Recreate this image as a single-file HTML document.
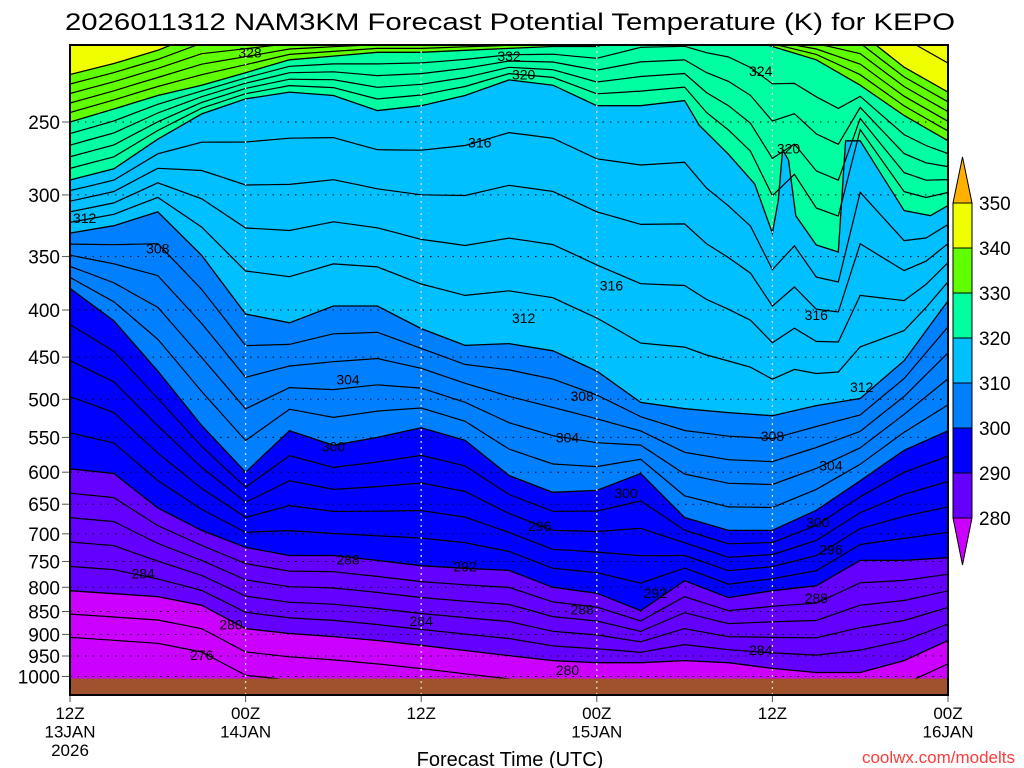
<!DOCTYPE html>
<html><head><meta charset="utf-8"><style>
html,body{margin:0;padding:0;background:#fff;}
svg{display:block;font-family:"Liberation Sans",sans-serif;}
</style></head><body>
<svg id="chart" width="1024" height="768" viewBox="0 0 1024 768" xmlns="http://www.w3.org/2000/svg">
<text x="65" y="30" font-size="24" textLength="890" lengthAdjust="spacingAndGlyphs" fill="#000">2026011312 NAM3KM Forecast Potential Temperature (K) for KEPO</text>
<defs><clipPath id="plotclip"><rect x="70" y="45" width="878" height="650"/></clipPath></defs>
<g id="plot" clip-path="url(#plotclip)"></g>
<g id="overlay"></g>
<g id="colorbar"></g>
<text x="510" y="766" font-size="20" text-anchor="middle" fill="#000">Forecast Time (UTC)</text>
<text x="1015" y="763" font-size="17" text-anchor="end" fill="#ff3b3b">coolwx.com/modelts</text>
</svg>
<script>
// ---- data ----
const gridHours = [0,3,6,9,12,15,18,21,24,27,30,33,36,39,42,45,48,51,54,57,60];
const iso280 = [807,813,819,837,887,898,905,914,925,937,949,961,966,966,961,966,980,990,990,961,914];
const iso290 = [595,602,656,694,724,739,739,748,758,763,767,800,812,848,787,821,807,797,748,748,743];
const iso300 = [379,411,466,534,600,541,561,550,537,554,605,631,628,602,672,694,694,660,613,568,541];
const iso310 = [330,324,313,349,404,413,396,396,419,437,435,443,466,504,512,517,521,508,499,454,391];
const iso320Hours = [0,3,6,9,12,15,18,21,24,27,30,33,36,39,42,43,45,46.8,48,48.4,48.7,49.1,49.6,51,52.5,53,54,57,58.8,60];
const iso320 = [289,281,261,245,236,232,234,243,240,234,225,228,240,240,237,252,271,292,330,304,268,275,316,340,346,262,262,312,316,308];
const iso330 = [250,242,234,228,221,214,212,210,210,209,208,207,207,200,200,200,207,214,228,246,262];
const iso340 = [222,216,209,200,200,200,200,200,200,200,200,200,200,200,200,200,200,200,200,218,232];
const levelValues = [280,290,300,310,320,330,340];
const bandColors = ['#6400ff','#0000ff','#0080ff','#00c0ff','#00ffa0','#60ff00','#f0ff00'];
const belowColor = '#cc00ff';
const pressureTicks = [250,300,350,400,450,500,550,600,650,700,750,800,850,900,950,1000];
const timeTickHours = [0,12,24,36,48,60];
const timeTickLine1 = ['12Z','00Z','12Z','00Z','12Z','00Z'];
const timeTickLine2 = ['13JAN','14JAN','','15JAN','','16JAN'];
const timeTickLine3 = ['2026','','','','',''];
const cbarLabels = [280,290,300,310,320,330,340,350];
const contourLabels = [
 ['332',30,212],['328',12.3,210],['320',31,222],['324',47.2,220],['316',28,263],['320',49.1,267],
 ['312',1,318],['308',6,343],['316',37,376],['312',31,408],['316',51,405],['312',54.1,485],
 ['304',19,476],['308',35,496],['304',34,550],['308',48,548],['304',52,590],['300',18,563],
 ['300',38,632],['300',51.1,680],['296',32.1,686],['296',52,728],['292',27,760],['292',40,812],
 ['288',19,746],['288',35,846],['288',51,822],['284',5,773],['284',24,870],['284',47.2,936],
 ['280',11,878],['280',34,984],['276',9,948]];

// ---- axes ----
const X0=70, X1=948, Y250=122, PXLN=400;
function xOf(h){return X0+(X1-X0)*h/60;}
function yOf(p){return Y250+PXLN*Math.log(p/250);}
function interp(hs,vs,h){
  if(h<=hs[0])return vs[0];
  for(let i=1;i<hs.length;i++){if(h<=hs[i]){const t=(h-hs[i-1])/(hs[i]-hs[i-1]);return Math.exp(Math.log(vs[i-1])*(1-t)+Math.log(vs[i])*t);}}
  return vs[vs.length-1];
}
const NS='http://www.w3.org/2000/svg';
function mk(tag,attrs,parent){const e=document.createElementNS(NS,tag);for(const k in attrs)e.setAttribute(k,attrs[k]);parent.appendChild(e);return e;}
const plot=document.getElementById('plot');
const overlay=document.getElementById('overlay');
const cb=document.getElementById('colorbar');

const isoSeries=[
 {h:gridHours,p:iso280},{h:gridHours,p:iso290},{h:gridHours,p:iso300},{h:gridHours,p:iso310},
 {h:iso320Hours,p:iso320},{h:gridHours,p:iso330},{h:gridHours,p:iso340}];
function linePts(s){return s.h.map((h,i)=>xOf(h).toFixed(1)+','+yOf(s.p[i]).toFixed(1));}

// background below 280
const bg=mk('rect',{x:X0,y:45,width:X1-X0,height:650,fill:belowColor},plot);


// fill bands from warmest threshold outward (region above each isotherm)
isoSeries.forEach((s,k)=>{
  const pts=linePts(s);
  const d='M'+X0+',40 L'+pts.join(' L')+' L'+X1+',40 Z';
  const el=mk('path',{d:d,fill:bandColors[k],stroke:'none'},plot);
  
  
});
// contour lines: boundaries + derived intermediates (2K)
const fine=[];for(let h=0;h<=60;h+=1.5)fine.push(h);
function sample(s){return fine.map(h=>interp(s.h,s.p,h));}
const sampled=isoSeries.map(sample);
for(let k=0;k<sampled.length;k++){
  const s=isoSeries[k];
  const el=mk('polyline',{points:linePts(s).join(' '),fill:'none',stroke:'#000','stroke-width':1.3},plot);
  
  
  if(k<sampled.length-1){
    const a=sampled[k],b=sampled[k+1];
    for(let f=1;f<5;f++){
      const t=f/5;
      const pts=fine.map((h,i)=>xOf(h).toFixed(1)+','+yOf(Math.exp(Math.log(a[i])*(1-t)+Math.log(b[i])*t)).toFixed(1));
      const ln=mk('polyline',{points:pts.join(' '),fill:'none',stroke:'#000','stroke-width':1.2},plot);
      
      
    }
  }
}
// lines above 340 (yellow) and below 280
{
  const a=sampled[6];
  for(let f=1;f<5;f++){
    const pts=fine.map((h,i)=>xOf(h).toFixed(1)+','+yOf(a[i]*Math.pow(0.93,f)).toFixed(1));
    const ln=mk('polyline',{points:pts.join(' '),fill:'none',stroke:'#000','stroke-width':1.2},plot);
    
    
  }
  const b=sampled[0];
  for(let f=1;f<3;f++){
    const pts=fine.map((h,i)=>xOf(h).toFixed(1)+','+yOf(Math.min(1030,b[i]*Math.pow(1.06,f))).toFixed(1));
    const ln=mk('polyline',{points:pts.join(' '),fill:'none',stroke:'#000','stroke-width':1.2},plot);
    
    
  }
}
// contour labels
contourLabels.forEach(c=>{
  const t=mk('text',{x:xOf(c[1]),y:yOf(c[2])+5,'font-size':14,'text-anchor':'middle',fill:'#000'},plot);
  t.textContent=c[0];
  
  
});
// ground
const gr=mk('rect',{x:X0,y:yOf(1005),width:X1-X0,height:700-yOf(1005),fill:'#a0522d'},plot);



// grid lines
pressureTicks.forEach(p=>{
  const y=yOf(p);
  const g=mk('line',{x1:X0,x2:X1,y1:y,y2:y,stroke:'#000','stroke-width':1,'stroke-dasharray':'1.5,6'},overlay);
  
  
  const tk=mk('line',{x1:X0-8,x2:X0,y1:y,y2:y,stroke:'#555','stroke-width':1},overlay);
  
  
  const tl=mk('text',{x:60,y:y+7,'font-size':19,'text-anchor':'end',fill:'#000'},overlay);
  tl.textContent=p;
  
  
});
timeTickHours.forEach((h,i)=>{
  const x=xOf(h);
  if(h>0&&h<60){
    const v=mk('line',{x1:x,x2:x,y1:45,y2:695,stroke:'#d8d8d8','stroke-width':1.3,'stroke-dasharray':'2,4'},overlay);
    
    
  }
  const tk=mk('line',{x1:x,x2:x,y1:695,y2:702,stroke:'#555','stroke-width':1},overlay);
  
  
  [timeTickLine1[i],timeTickLine2[i],timeTickLine3[i]].forEach((s,j)=>{
    if(!s)return;
    const t=mk('text',{x:x,y:719+j*18.5,'font-size':17,'text-anchor':'middle',fill:'#000'},overlay);
    t.textContent=s;
    
    
  });
});
const fr=mk('rect',{x:X0,y:45,width:X1-X0,height:650,fill:'none',stroke:'#000','stroke-width':2},overlay);



// colorbar
const CBX=953,CBW=19,CB280=518,CBSTEP=45;
const cbTop=CB280-CBSTEP*(cbarLabels.length-1);
const up=mk('polygon',{points:CBX+','+cbTop+' '+(CBX+CBW)+','+cbTop+' '+(CBX+CBW/2)+','+(cbTop-46),fill:'#ffb000',stroke:'#000','stroke-width':1},cb);


bandColors.forEach((c,k)=>{
  const y=CB280-CBSTEP*(k+1);
  const r=mk('rect',{x:CBX,y:y,width:CBW,height:CBSTEP,fill:c,stroke:'#000','stroke-width':1},cb);
  
  
});
const dn=mk('polygon',{points:CBX+','+CB280+' '+(CBX+CBW)+','+CB280+' '+(CBX+CBW/2)+','+(CB280+47),fill:belowColor,stroke:'#000','stroke-width':1},cb);


cbarLabels.forEach((v,i)=>{
  const t=mk('text',{x:979,y:CB280-CBSTEP*i+7,'font-size':19,fill:'#000'},cb);
  t.textContent=v;
  
  
});
</script>
</body></html>
